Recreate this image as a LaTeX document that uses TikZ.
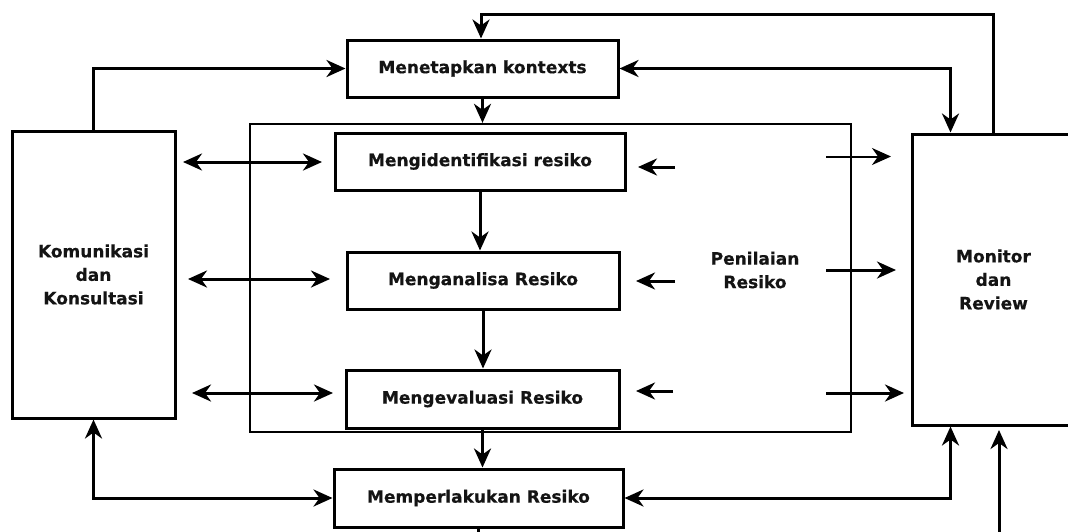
\documentclass[tikz,border=0pt]{standalone}
\usepackage{fontspec}
\setmainfont{DejaVu Sans}[BoldFeatures={FakeBold=0.4}]
\usetikzlibrary{arrows.meta,calc}
\begin{document}
\begin{tikzpicture}[x=1pt,y=-1pt,
  lbl/.style={font=\bfseries\fontsize{17}{23.5}\selectfont,align=center,text=black!92},
  box/.style={lbl,draw,fill=white,line width=3pt,minimum height=57pt,inner sep=0pt},
  tall/.style={box,minimum width=163pt},
  con/.style={line width=3pt,-{Stealth[length=19pt,width=17pt,inset=6pt]}},
  dcon/.style={line width=3pt,{Stealth[length=19pt,width=17pt,inset=6pt]}-{Stealth[length=19pt,width=17pt,inset=6pt]}},
  thin/.style={line width=2pt,-{Stealth[length=19pt,width=17pt,inset=6pt]}}
]
\useasboundingbox (0,0) rectangle (1068,531);
\clip (0,0) rectangle (1068,531);
\fill[white] (0,0) rectangle (1068,531);

% risk assessment frame
\node[draw,line width=2.3pt,minimum width=601pt,minimum height=308pt,inner sep=0pt] (pen) at (550.5,278) {};
\node[lbl] (penlbl) at (755,270) {Penilaian\\Resiko};

% process steps
\node[box,minimum width=271pt] (ctx) at (482.5,68.5) {Menetapkan kontexts};
\node[box,minimum width=290pt] (idf) at (480,161.5) {Mengidentifikasi resiko};
\node[box,minimum width=272pt] (ana) at (483,280.5) {Menganalisa Resiko};
\node[box,minimum width=273pt,minimum height=58pt] (eva) at (482.5,399) {Mengevaluasi Resiko};
\node[box,minimum width=289pt,minimum height=58pt] (mem) at (478.5,498) {Memperlakukan Resiko};

% side columns
\node[tall,minimum height=287pt] (kom) at (93.5,274.5) {Komunikasi\\dan\\Konsultasi};
\node[tall,minimum height=291pt] (mon) at (993.5,279.5) {Monitor\\dan\\Review};

% main flow
\draw[con] (ctx.south) -- (ctx.south |- pen.north);
\draw[con] (idf.south) -- (idf.south |- ana.north);
\draw[con] (ana.south) -- (ana.south |- eva.north);
\draw[con] (eva.south) -- (eva.south |- mem.north);
\draw[line width=3pt] (mem.south) -- ++(0,20);

% feedback loops around the top
\draw[con] (mon.north) |- ($(ctx.north)+(-1.5,-24)$) -- ($(ctx.north)+(-1.5,0)$);
\draw[con] (kom.north) |- (ctx.west);
\draw[dcon] (ctx.east) -| ($(mon.north west)+(40,0)$);

% loops around the bottom
\draw[dcon] (kom.south) |- (mem.west);
\draw[dcon] (mem.east) -| ($(mon.south west)+(40,0)$);
\coordinate (inB) at (999,540);
\coordinate (inT) at (999,430);
\draw[con] (inB) -- (inT);

% communication arrows on the left
\coordinate (l1a) at (183,162);  \coordinate (l1b) at (322,162);
\coordinate (l2a) at (188,279);  \coordinate (l2b) at (330,279);
\coordinate (l3a) at (192,393);  \coordinate (l3b) at (333,393);
\draw[dcon] (l1a) -- (l1b);
\draw[dcon] (l2a) -- (l2b);
\draw[dcon] (l3a) -- (l3b);

% arrows on the right of the steps
\coordinate (r1a) at (675,167);  \coordinate (r1b) at (638,167);
\coordinate (r2a) at (675,281);  \coordinate (r2b) at (636,281);
\coordinate (r3a) at (673,391);  \coordinate (r3b) at (636,391);
\draw[con] (r1a) -- (r1b);
\draw[con] (r2a) -- (r2b);
\draw[con] (r3a) -- (r3b);

% arrows towards monitoring
\coordinate (m1a) at (826,156.5); \coordinate (m1b) at (891,156.5);
\coordinate (m2a) at (826,270);   \coordinate (m2b) at (896,270);
\coordinate (m3a) at (826,393);   \coordinate (m3b) at (904,393);
\draw[thin] (m1a) -- (m1b);
\draw[con] (m2a) -- (m2b);
\draw[con] (m3a) -- (m3b);
\end{tikzpicture}
\end{document}
